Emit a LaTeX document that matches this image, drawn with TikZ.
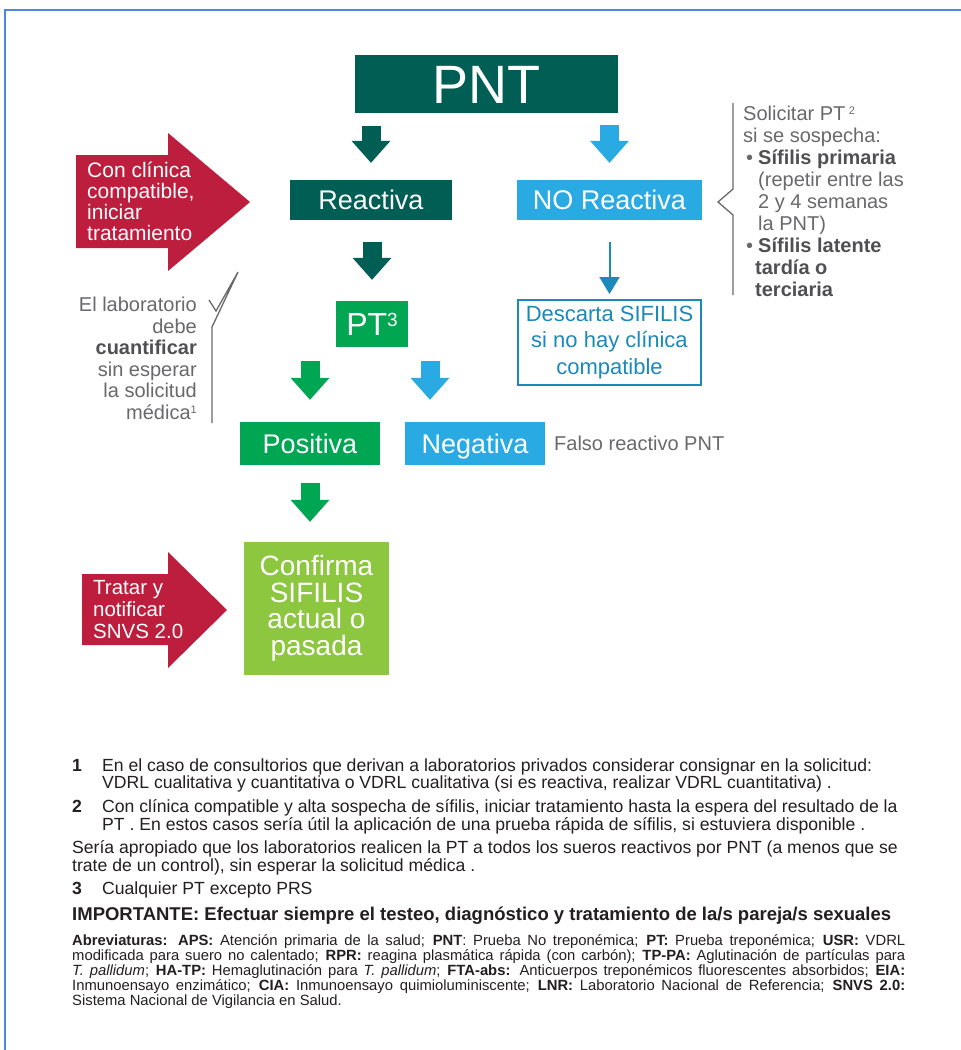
\documentclass[tikz,border=0pt]{standalone}
\usepackage{fontspec}
\setmainfont{Liberation Sans}
\usetikzlibrary{arrows.meta,calc}

\definecolor{pntteal}{RGB}{0,94,84}
\definecolor{skyblue}{RGB}{41,170,226}
\definecolor{deepsky}{RGB}{27,137,186}
\definecolor{frameblue}{RGB}{74,137,220}
\definecolor{ptgreen}{RGB}{0,166,81}
\definecolor{limegreen}{RGB}{141,198,63}
\definecolor{alertred}{RGB}{190,30,61}
\definecolor{notegray}{RGB}{105,105,108}
\definecolor{notebold}{RGB}{80,80,83}
\definecolor{bodyink}{RGB}{35,31,32}

\newcommand\setfs[2]{\fontsize{#1pt}{#2pt}\selectfont}

\begin{document}
\begin{tikzpicture}[x=1pt,y=-1pt,
  flowbox/.style={inner sep=0pt, text=white},
  fat/.style={line width=19pt, -{Triangle[width=39pt,length=22pt,line width=0pt]}},
  note/.style={inner sep=0pt, text=notegray, font=\setfs{20}{22}},
  redtext/.style={inner sep=0pt, text=white, font=\setfs{21}{21}, align=left},
  fn/.style={inner sep=0pt, text=bodyink, font=\setfs{17.6}{17.6}, anchor=base west},
  abbr/.style={inner sep=0pt, text=bodyink, font=\setfs{14.8}{14.8}, anchor=base west},
]
\useasboundingbox (0,0) rectangle (961,1050);
\fill[white] (0,0) rectangle (961,1050);
\draw[frameblue, line width=2pt] (5,1050) -- (5,10) -- (961,10);

% ---- flow boxes
\node[flowbox, fill=pntteal, minimum width=263pt, minimum height=58pt,
      font=\setfs{54}{54}, text height=38.7pt, text depth=0pt] (pnt) at (486.5,84) {PNT};
\node[flowbox, fill=pntteal, minimum width=162pt, minimum height=40pt,
      font=\setfs{27}{27}, text height=19.3pt, text depth=0pt] (react) at (371,200) {Reactiva};
\node[flowbox, fill=skyblue, minimum width=185pt, minimum height=40pt,
      font=\setfs{27}{27}, text height=19.3pt, text depth=0pt] (noreact) at (609.5,200) {NO Reactiva};
\node[flowbox, fill=ptgreen, minimum width=72pt, minimum height=46pt,
      font=\setfs{32}{32}, text height=23pt, text depth=0pt] (pt) at (372,324)
      {PT\raisebox{9pt}{\setfs{19}{19}3}};
\node[flowbox, fill=ptgreen, minimum width=140pt, minimum height=43pt,
      font=\setfs{27}{27}, text height=19.3pt, text depth=0pt] (pos) at (310,443.5) {Positiva};
\node[flowbox, fill=skyblue, minimum width=140pt, minimum height=43pt,
      font=\setfs{27}{27}, text height=19.3pt, text depth=0pt] (neg) at (475,443.5) {Negativa};
\node[draw=deepsky, line width=2pt, minimum width=183pt, minimum height=85pt, inner sep=0pt,
      text=deepsky, font=\setfs{22}{26.5}, align=center] (descarta) at (609.5,342.5)
      {Descarta SIFILIS\\si no hay clínica\\compatible};
\node[flowbox, fill=limegreen, minimum width=145pt, minimum height=133pt,
      font=\setfs{28}{26.5}, align=center] (conf) at (316.5,608.5)
      {Confirma\\SIFILIS\\actual o\\pasada};

% ---- connectors
\draw[fat, pntteal, shorten <=13pt, shorten >=17pt] (pnt.south -| react.north) -- (react.north);
\draw[fat, skyblue, shorten <=12pt, shorten >=17pt] (pnt.south -| noreact.north) -- (noreact.north);
\draw[fat, pntteal, shorten <=22pt, shorten >=21pt] (react.south -| pt.north) -- (pt.north);
\draw[fat, ptgreen, shorten <=14pt, shorten >=22pt] (pt.south -| pos.north) -- (pos.north);
\draw[fat, skyblue, shorten <=14pt, shorten >=22pt] ([xshift=58pt]pt.south) -- ([xshift=58pt]pt.south |- neg.north);
\draw[fat, ptgreen, shorten <=18pt, shorten >=20pt] (pos.south) -- (pos.south |- conf.north);
\draw[deepsky, line width=2pt, -{Triangle[width=20pt,length=17pt]}, shorten <=22pt, shorten >=5pt]
      (noreact.south) -- (descarta.north);

% ---- red callout arrows
\fill[alertred] (76,155) -- (168,155) -- (168,133) -- (250,202) -- (168,271) -- (168,248) -- (76,248) -- cycle;
\node[redtext, anchor=west] (clinica) at (87,201.5) {Con clínica\\compatible,\\iniciar\\tratamiento};
\fill[alertred] (82,574) -- (168,574) -- (168,552) -- (227,610) -- (168,668) -- (168,645) -- (82,645) -- cycle;
\node[redtext, anchor=west, font=\setfs{20.5}{22}] (tratar) at (93,610) {Tratar y\\notificar\\SNVS 2.0};

% ---- gray side notes
\draw[notegray, line width=1.3pt, line join=miter] (209,300) -- (216,311) -- (238,272) -- (212,327) -- (212,423);
\node[note, anchor=east, align=right, font=\setfs{20}{21.5}] (lab) at (197,358.5)
  {El laboratorio\\debe\\\textcolor{notebold}{\textbf{cuantificar}}\\sin esperar\\la solicitud\\médica\raisebox{6pt}{\setfs{11}{11}1}};

\draw[notegray, line width=1.3pt] (733,103) -- (733,189) -- (718,202) -- (733,215) -- (733,295);
\node[note, anchor=west, align=left] (solicitar) at (743,201)
  {Solicitar PT\,\raisebox{6pt}{\setfs{11}{11}2}\\
   si se sospecha:\\
   \makebox[15pt][l]{\hspace{3pt}\textbullet}\textcolor{notebold}{\textbf{Sífilis primaria}}\\
   \hspace*{15pt}(repetir entre las\\
   \hspace*{15pt}2 y 4 semanas\\
   \hspace*{15pt}la PNT)\\
   \makebox[15pt][l]{\hspace{3pt}\textbullet}\textcolor{notebold}{\textbf{Sífilis latente}}\\
   \hspace*{12pt}\textcolor{notebold}{\textbf{tardía o}}\\
   \hspace*{12pt}\textcolor{notebold}{\textbf{terciaria}}};

\node[note, anchor=west, text height=14pt, text depth=0pt] (falso) at (554,443.5) {Falso reactivo PNT};

% ---- footnotes
\node[fn] (n1) at (72,771.5) {\textbf{1}};
\node[fn] (f1a) at (102,771.5) {En el caso de consultorios que derivan a laboratorios privados considerar consignar en la solicitud:};
\node[fn] (f1b) at (102,788.5) {VDRL cualitativa y cuantitativa o VDRL cualitativa (si es reactiva, realizar VDRL cuantitativa) .};
\node[fn] (n2) at (72,812.5) {\textbf{2}};
\node[fn] (f2a) at (102,812.5) {Con clínica compatible y alta sospecha de sífilis, iniciar tratamiento hasta la espera del resultado de la};
\node[fn] (f2b) at (102,830.5) {PT . En estos casos sería útil la aplicación de una prueba rápida de sífilis, si estuviera disponible .};
\node[fn] (f2c) at (72,853.5) {Sería apropiado que los laboratorios realicen la PT a todos los sueros reactivos por PNT (a menos que se};
\node[fn] (f2d) at (72,871.5) {trate de un control), sin esperar la solicitud médica .};
\node[fn] (n3) at (72,894.5) {\textbf{3}};
\node[fn] (f3) at (102,894.5) {Cualquier PT excepto PRS};
\node[fn, font=\setfs{18.5}{18.5}] (imp) at (72,920) {\textbf{IMPORTANTE: Efectuar siempre el testeo, diagnóstico y tratamiento de la/s pareja/s sexuales}};

\node[abbr] (ab1) at (72,945.5) {\makebox[833pt][s]{\textbf{Abreviaturas: APS:} Atención primaria de la salud; \textbf{PNT}: Prueba No treponémica; \textbf{PT:} Prueba treponémica; \textbf{USR:} VDRL}};
\node[abbr] (ab2) at (72,960.5) {\makebox[833pt][s]{modificada para suero no calentado; \textbf{RPR:} reagina plasmática rápida (con carbón); \textbf{TP-PA:} Aglutinación de partículas para}};
\node[abbr] (ab3) at (72,975.5) {\makebox[833pt][s]{\textit{T. pallidum}; \textbf{HA-TP:} Hemaglutinación para \textit{T. pallidum}; \textbf{FTA-abs:} Anticuerpos treponémicos fluorescentes absorbidos; \textbf{EIA:}}};
\node[abbr] (ab4) at (72,990.5) {\makebox[833pt][s]{Inmunoensayo enzimático; \textbf{CIA:} Inmunoensayo quimioluminiscente; \textbf{LNR:} Laboratorio Nacional de Referencia; \textbf{SNVS 2.0:}}};
\node[abbr] (ab5) at (72,1005.5) {Sistema Nacional de Vigilancia en Salud.};
\end{tikzpicture}
\end{document}
